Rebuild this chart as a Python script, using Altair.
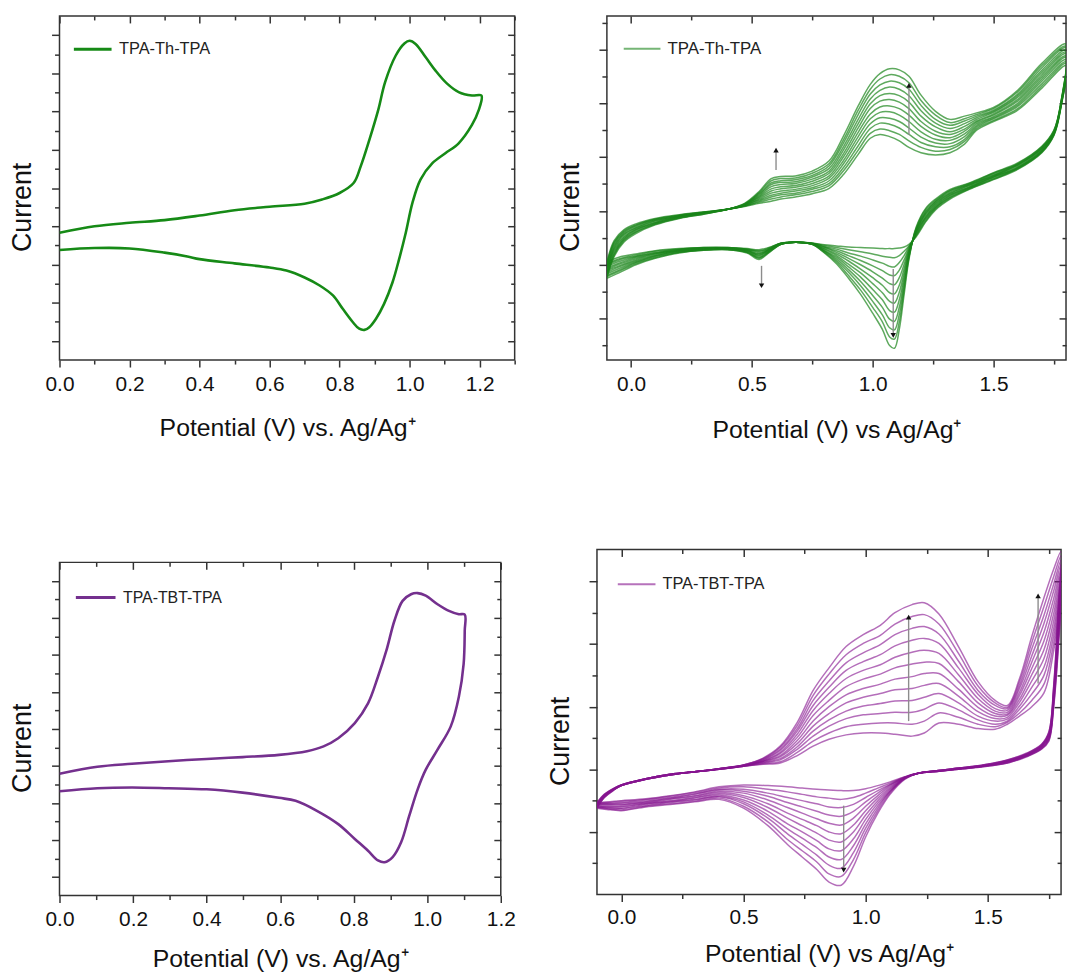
import altair as alt
import pandas as pd

FONT = "Liberation Sans"
AX = "#333333"

# ---------------- Top-left: single CV, TPA-Th-TPA ----------------
TL_V = [0.0, 0.1, 0.2, 0.3, 0.4, 0.5, 0.6, 0.7, 0.75, 0.8, 0.84, 0.86, 0.885, 0.91, 0.93, 0.96, 0.985, 1.0, 1.017, 1.046,
        1.074, 1.107, 1.14, 1.178, 1.205,
        1.197, 1.178, 1.14, 1.102, 1.065, 1.031, 1.008, 0.989, 0.97, 0.951, 0.927, 0.904, 0.885, 0.871, 0.856, 0.838,
        0.809, 0.781, 0.743, 0.7, 0.648, 0.6, 0.5, 0.4, 0.365, 0.3, 0.2, 0.1, 0.0]
TL_I = [2.83, 3.00, 3.09, 3.16, 3.28, 3.42, 3.51, 3.59, 3.70, 3.87, 4.13, 4.56, 5.26, 6.03, 6.77, 7.46, 7.78, 7.85, 7.77, 7.42,
        7.07, 6.73, 6.51, 6.42, 6.42,
        6.03, 5.65, 5.17, 4.91, 4.65, 4.22, 3.61, 2.83, 2.14, 1.53, 0.97, 0.58, 0.36, 0.29, 0.32, 0.49,
        0.84, 1.19, 1.45, 1.66, 1.84, 1.92, 2.03, 2.14, 2.21, 2.31, 2.42, 2.43, 2.38]

# ---------------- Bottom-left: single CV, TPA-TBT-TPA ----------------
BL_V = [0.0, 0.103, 0.197, 0.296, 0.4, 0.498, 0.597, 0.673, 0.718, 0.758, 0.803, 0.839, 0.866, 0.889, 0.911, 0.933, 0.956,
        0.974, 0.996, 1.028, 1.059, 1.086, 1.102,
        1.102, 1.099, 1.086, 1.064, 1.028, 0.996, 0.974, 0.951, 0.929, 0.906, 0.884, 0.866, 0.839, 0.803, 0.758, 0.7,
        0.642, 0.597, 0.498, 0.4, 0.296, 0.197, 0.103, 0.0]
BL_I = [2.79, 2.98, 3.06, 3.13, 3.19, 3.24, 3.30, 3.40, 3.53, 3.75, 4.16, 4.69, 5.41, 6.12, 6.93, 7.46, 7.64,
        7.67, 7.60, 7.37, 7.19, 7.10, 7.09,
        6.66, 5.76, 4.87, 4.07, 3.44, 2.90, 2.37, 1.65, 0.94, 0.54, 0.40, 0.45, 0.71, 1.03, 1.43, 1.79,
        2.06, 2.14, 2.28, 2.37, 2.40, 2.42, 2.40, 2.32]

# ---------------- Top-right: repeated cycles, TPA-Th-TPA (rows = potential, columns = cycles 1..12) ----------------
TR_FWD_V = [-0.1, -0.07, -0.03, 0.02, 0.1, 0.2, 0.3, 0.4, 0.47, 0.53, 0.58, 0.62, 0.68, 0.75, 0.82, 0.88, 0.94, 0.99,
            1.03, 1.07, 1.11, 1.15, 1.2, 1.26, 1.32, 1.38, 1.43, 1.5, 1.6, 1.7, 1.8]
TR_FWD_I = [
    [0.05, 0.02, 0.00, -0.03, -0.06, -0.09, -0.11, -0.14, -0.17, -0.20, -0.22, -0.25],
    [0.45, 0.42, 0.40, 0.37, 0.34, 0.31, 0.29, 0.26, 0.23, 0.20, 0.18, 0.15],
    [0.65, 0.63, 0.61, 0.59, 0.57, 0.55, 0.52, 0.50, 0.48, 0.46, 0.44, 0.42],
    [0.76, 0.74, 0.73, 0.71, 0.69, 0.68, 0.66, 0.65, 0.63, 0.61, 0.60, 0.58],
    [0.86, 0.85, 0.84, 0.83, 0.82, 0.81, 0.79, 0.78, 0.77, 0.76, 0.75, 0.74],
    [0.93, 0.92, 0.92, 0.91, 0.90, 0.90, 0.89, 0.89, 0.88, 0.87, 0.87, 0.86],
    [0.98, 0.98, 0.97, 0.97, 0.97, 0.96, 0.96, 0.96, 0.95, 0.95, 0.94, 0.94],
    [1.03, 1.03, 1.03, 1.03, 1.03, 1.03, 1.03, 1.03, 1.03, 1.03, 1.03, 1.03],
    [1.08, 1.09, 1.09, 1.10, 1.10, 1.11, 1.11, 1.12, 1.12, 1.13, 1.13, 1.14],
    [1.14, 1.16, 1.18, 1.20, 1.22, 1.24, 1.26, 1.28, 1.30, 1.32, 1.34, 1.36],
    [1.18, 1.22, 1.26, 1.29, 1.33, 1.37, 1.41, 1.45, 1.49, 1.52, 1.56, 1.60],
    [1.22, 1.26, 1.30, 1.33, 1.37, 1.41, 1.45, 1.49, 1.53, 1.56, 1.60, 1.64],
    [1.26, 1.30, 1.33, 1.37, 1.40, 1.44, 1.47, 1.51, 1.54, 1.58, 1.61, 1.65],
    [1.32, 1.36, 1.40, 1.43, 1.47, 1.51, 1.55, 1.59, 1.63, 1.66, 1.70, 1.74],
    [1.42, 1.47, 1.51, 1.56, 1.61, 1.65, 1.70, 1.74, 1.79, 1.84, 1.88, 1.93],
    [1.68, 1.75, 1.81, 1.88, 1.94, 2.01, 2.07, 2.14, 2.20, 2.27, 2.33, 2.40],
    [2.05, 2.13, 2.21, 2.30, 2.38, 2.46, 2.54, 2.62, 2.70, 2.79, 2.87, 2.95],
    [2.35, 2.44, 2.53, 2.62, 2.71, 2.80, 2.90, 2.99, 3.08, 3.17, 3.26, 3.35],
    [2.42, 2.52, 2.63, 2.73, 2.83, 2.93, 3.04, 3.14, 3.24, 3.34, 3.45, 3.55],
    [2.38, 2.49, 2.61, 2.72, 2.84, 2.95, 3.07, 3.18, 3.30, 3.41, 3.53, 3.64],
    [2.30, 2.42, 2.54, 2.66, 2.78, 2.90, 3.02, 3.14, 3.26, 3.38, 3.50, 3.62],
    [2.18, 2.30, 2.42, 2.54, 2.66, 2.78, 2.90, 3.02, 3.14, 3.26, 3.38, 3.50],
    [2.08, 2.18, 2.27, 2.37, 2.47, 2.57, 2.66, 2.76, 2.86, 2.96, 3.05, 3.15],
    [2.04, 2.11, 2.19, 2.26, 2.33, 2.41, 2.48, 2.56, 2.63, 2.70, 2.78, 2.85],
    [2.08, 2.14, 2.19, 2.25, 2.31, 2.36, 2.42, 2.47, 2.53, 2.59, 2.64, 2.70],
    [2.24, 2.29, 2.33, 2.38, 2.43, 2.48, 2.52, 2.57, 2.62, 2.67, 2.71, 2.76],
    [2.50, 2.53, 2.56, 2.59, 2.62, 2.65, 2.67, 2.70, 2.73, 2.76, 2.79, 2.82],
    [2.66, 2.68, 2.71, 2.73, 2.75, 2.78, 2.80, 2.83, 2.85, 2.87, 2.90, 2.92],
    [2.87, 2.90, 2.94, 2.97, 3.00, 3.04, 3.07, 3.11, 3.14, 3.17, 3.21, 3.24],
    [3.28, 3.32, 3.36, 3.41, 3.45, 3.49, 3.53, 3.57, 3.61, 3.66, 3.70, 3.74],
    [3.70, 3.74, 3.77, 3.81, 3.85, 3.88, 3.92, 3.95, 3.99, 4.03, 4.06, 4.10],
]
TR_REV_V = [1.78, 1.75, 1.7, 1.6, 1.5, 1.4, 1.32, 1.26, 1.22, 1.18, 1.15, 1.13, 1.11, 1.09, 1.07, 1.04, 1.0, 0.95, 0.9,
            0.85, 0.8, 0.75, 0.68, 0.62, 0.57, 0.53, 0.48, 0.4, 0.3, 0.2, 0.1, 0.02, -0.05, -0.1]
TR_REV_I = [
    [2.95, 2.96, 2.97, 2.98, 2.99, 3.00, 3.00, 3.01, 3.02, 3.03, 3.04, 3.05],
    [2.40, 2.41, 2.42, 2.43, 2.44, 2.45, 2.45, 2.46, 2.47, 2.48, 2.49, 2.50],
    [2.08, 2.09, 2.10, 2.11, 2.12, 2.13, 2.15, 2.16, 2.17, 2.18, 2.19, 2.20],
    [1.77, 1.78, 1.79, 1.80, 1.81, 1.82, 1.84, 1.85, 1.86, 1.87, 1.88, 1.89],
    [1.58, 1.59, 1.60, 1.62, 1.63, 1.64, 1.65, 1.66, 1.67, 1.69, 1.70, 1.71],
    [1.40, 1.41, 1.42, 1.43, 1.44, 1.45, 1.47, 1.48, 1.49, 1.50, 1.51, 1.52],
    [1.22, 1.24, 1.25, 1.27, 1.29, 1.30, 1.32, 1.33, 1.35, 1.37, 1.38, 1.40],
    [1.02, 1.04, 1.06, 1.07, 1.09, 1.11, 1.13, 1.15, 1.17, 1.18, 1.20, 1.22],
    [0.80, 0.82, 0.85, 0.87, 0.89, 0.91, 0.94, 0.96, 0.98, 1.00, 1.03, 1.05],
    [0.52, 0.54, 0.55, 0.57, 0.59, 0.60, 0.62, 0.63, 0.65, 0.67, 0.68, 0.70],
    [0.38, 0.35, 0.33, 0.30, 0.28, 0.25, 0.23, 0.20, 0.18, 0.15, 0.13, 0.10],
    [0.33, 0.25, 0.17, 0.09, 0.01, -0.07, -0.15, -0.23, -0.31, -0.39, -0.47, -0.55],
    [0.31, 0.17, 0.04, -0.10, -0.24, -0.38, -0.51, -0.65, -0.79, -0.92, -1.06, -1.20],
    [0.30, 0.13, -0.04, -0.20, -0.37, -0.54, -0.71, -0.88, -1.05, -1.21, -1.38, -1.55],
    [0.30, 0.14, -0.03, -0.19, -0.35, -0.52, -0.68, -0.85, -1.01, -1.17, -1.34, -1.50],
    [0.30, 0.16, 0.03, -0.11, -0.25, -0.38, -0.52, -0.65, -0.79, -0.93, -1.06, -1.20],
    [0.31, 0.20, 0.09, -0.02, -0.13, -0.24, -0.35, -0.46, -0.57, -0.68, -0.79, -0.90],
    [0.32, 0.24, 0.16, 0.08, 0.00, -0.08, -0.15, -0.23, -0.31, -0.39, -0.47, -0.55],
    [0.33, 0.28, 0.22, 0.17, 0.12, 0.07, 0.01, -0.04, -0.09, -0.14, -0.20, -0.25],
    [0.35, 0.32, 0.29, 0.26, 0.23, 0.20, 0.17, 0.14, 0.11, 0.08, 0.05, 0.02],
    [0.37, 0.36, 0.34, 0.33, 0.32, 0.30, 0.29, 0.27, 0.26, 0.25, 0.23, 0.22],
    [0.40, 0.40, 0.40, 0.40, 0.39, 0.39, 0.39, 0.39, 0.38, 0.38, 0.38, 0.38],
    [0.42, 0.42, 0.42, 0.42, 0.42, 0.42, 0.42, 0.42, 0.42, 0.42, 0.42, 0.42],
    [0.40, 0.40, 0.40, 0.40, 0.39, 0.39, 0.39, 0.39, 0.38, 0.38, 0.38, 0.38],
    [0.32, 0.31, 0.30, 0.29, 0.28, 0.28, 0.27, 0.26, 0.25, 0.24, 0.23, 0.22],
    [0.28, 0.26, 0.25, 0.23, 0.21, 0.20, 0.18, 0.17, 0.15, 0.13, 0.12, 0.10],
    [0.30, 0.29, 0.29, 0.28, 0.27, 0.26, 0.26, 0.25, 0.24, 0.23, 0.23, 0.22],
    [0.32, 0.32, 0.31, 0.31, 0.31, 0.30, 0.30, 0.30, 0.29, 0.29, 0.28, 0.28],
    [0.32, 0.32, 0.31, 0.31, 0.30, 0.30, 0.29, 0.29, 0.28, 0.28, 0.27, 0.27],
    [0.30, 0.29, 0.29, 0.28, 0.27, 0.26, 0.26, 0.25, 0.24, 0.23, 0.23, 0.22],
    [0.26, 0.25, 0.23, 0.22, 0.21, 0.20, 0.18, 0.17, 0.16, 0.15, 0.13, 0.12],
    [0.20, 0.18, 0.16, 0.15, 0.13, 0.11, 0.09, 0.07, 0.05, 0.04, 0.02, 0.00],
    [0.14, 0.11, 0.09, 0.06, 0.03, 0.01, -0.02, -0.04, -0.07, -0.10, -0.12, -0.15],
    [0.05, 0.02, 0.00, -0.03, -0.06, -0.09, -0.11, -0.14, -0.17, -0.20, -0.22, -0.25],
]
TR_ARROW_V = [1.15, 0.60, 0.54, 1.085]
TR_ARROW_FROM = [2.41, 1.76, -0.02, -0.08]
TR_ARROW_TO = [3.33, 2.13, -0.39, -1.31]

# ---------------- Bottom-right: repeated cycles, TPA-TBT-TPA (rows = potential, columns = cycles 1..12) ----------------
BR_FWD_V = [-0.1, -0.07, -0.03, 0.0, 0.1, 0.2, 0.3, 0.4, 0.5, 0.58, 0.65, 0.72, 0.785, 0.85, 0.92, 0.99, 1.06, 1.12,
            1.19, 1.24, 1.30, 1.38, 1.46, 1.53, 1.58, 1.63, 1.68, 1.73, 1.77, 1.8]
BR_FWD_I = [
    [-0.53, -0.54, -0.55, -0.55, -0.56, -0.57, -0.58, -0.59, -0.60, -0.60, -0.61, -0.62],
    [-0.40, -0.40, -0.41, -0.41, -0.42, -0.42, -0.43, -0.43, -0.44, -0.44, -0.45, -0.45],
    [-0.30, -0.30, -0.31, -0.31, -0.31, -0.31, -0.32, -0.32, -0.32, -0.32, -0.33, -0.33],
    [-0.25, -0.25, -0.25, -0.25, -0.25, -0.25, -0.26, -0.26, -0.26, -0.26, -0.26, -0.26],
    [-0.15, -0.15, -0.15, -0.15, -0.15, -0.15, -0.16, -0.16, -0.16, -0.16, -0.16, -0.16],
    [-0.08, -0.08, -0.08, -0.08, -0.08, -0.08, -0.09, -0.09, -0.09, -0.09, -0.09, -0.09],
    [-0.04, -0.04, -0.04, -0.04, -0.04, -0.04, -0.04, -0.04, -0.04, -0.04, -0.04, -0.04],
    [0.00, 0.00, 0.00, 0.00, 0.00, 0.00, 0.01, 0.01, 0.01, 0.01, 0.01, 0.01],
    [0.05, 0.05, 0.05, 0.05, 0.06, 0.06, 0.06, 0.06, 0.06, 0.07, 0.07, 0.07],
    [0.08, 0.09, 0.10, 0.11, 0.12, 0.13, 0.13, 0.14, 0.15, 0.16, 0.17, 0.18],
    [0.10, 0.12, 0.15, 0.17, 0.20, 0.22, 0.25, 0.27, 0.30, 0.32, 0.35, 0.37],
    [0.22, 0.27, 0.32, 0.36, 0.41, 0.46, 0.51, 0.56, 0.61, 0.65, 0.70, 0.75],
    [0.37, 0.45, 0.53, 0.61, 0.69, 0.77, 0.86, 0.94, 1.02, 1.10, 1.18, 1.26],
    [0.48, 0.58, 0.69, 0.79, 0.89, 1.00, 1.10, 1.21, 1.31, 1.41, 1.52, 1.62],
    [0.55, 0.68, 0.81, 0.93, 1.06, 1.19, 1.32, 1.45, 1.58, 1.70, 1.83, 1.96],
    [0.58, 0.72, 0.87, 1.01, 1.15, 1.29, 1.44, 1.58, 1.72, 1.86, 2.01, 2.15],
    [0.58, 0.74, 0.89, 1.05, 1.21, 1.36, 1.52, 1.67, 1.83, 1.99, 2.14, 2.30],
    [0.56, 0.74, 0.91, 1.09, 1.27, 1.44, 1.62, 1.79, 1.97, 2.15, 2.32, 2.50],
    [0.53, 0.72, 0.91, 1.10, 1.29, 1.48, 1.68, 1.87, 2.06, 2.25, 2.44, 2.63],
    [0.58, 0.77, 0.96, 1.15, 1.34, 1.53, 1.71, 1.90, 2.09, 2.28, 2.47, 2.66],
    [0.74, 0.90, 1.06, 1.21, 1.37, 1.53, 1.69, 1.85, 2.01, 2.16, 2.32, 2.48],
    [0.72, 0.83, 0.95, 1.06, 1.17, 1.28, 1.40, 1.51, 1.62, 1.73, 1.85, 1.96],
    [0.65, 0.72, 0.79, 0.85, 0.92, 0.99, 1.06, 1.13, 1.20, 1.26, 1.33, 1.40],
    [0.64, 0.68, 0.72, 0.77, 0.81, 0.85, 0.89, 0.93, 0.97, 1.02, 1.06, 1.10],
    [0.72, 0.75, 0.77, 0.80, 0.83, 0.86, 0.88, 0.91, 0.94, 0.97, 0.99, 1.02],
    [0.85, 0.90, 0.96, 1.01, 1.07, 1.12, 1.18, 1.23, 1.29, 1.34, 1.40, 1.45],
    [1.00, 1.10, 1.20, 1.31, 1.41, 1.51, 1.61, 1.71, 1.81, 1.92, 2.02, 2.12],
    [1.22, 1.36, 1.50, 1.63, 1.77, 1.91, 2.05, 2.19, 2.33, 2.46, 2.60, 2.74],
    [1.90, 2.02, 2.14, 2.25, 2.37, 2.49, 2.61, 2.73, 2.85, 2.96, 3.08, 3.20],
    [2.70, 2.77, 2.84, 2.91, 2.98, 3.05, 3.13, 3.20, 3.27, 3.34, 3.41, 3.48],
]
BR_REV_V = [1.79, 1.77, 1.75, 1.72, 1.66, 1.58, 1.48, 1.38, 1.3, 1.22, 1.16, 1.1, 1.05, 1.0, 0.95, 0.9, 0.85, 0.8,
            0.74, 0.68, 0.6, 0.5, 0.4, 0.3, 0.2, 0.1, 0.0, -0.06, -0.1]
BR_REV_I = [
    [2.00, 2.06, 2.13, 2.19, 2.25, 2.32, 2.38, 2.45, 2.51, 2.57, 2.64, 2.70],
    [1.00, 1.03, 1.06, 1.10, 1.13, 1.16, 1.19, 1.22, 1.25, 1.29, 1.32, 1.35],
    [0.45, 0.46, 0.48, 0.49, 0.50, 0.52, 0.53, 0.55, 0.56, 0.57, 0.59, 0.60],
    [0.32, 0.33, 0.33, 0.34, 0.35, 0.36, 0.36, 0.37, 0.38, 0.39, 0.39, 0.40],
    [0.20, 0.21, 0.21, 0.22, 0.22, 0.23, 0.23, 0.24, 0.24, 0.25, 0.25, 0.26],
    [0.10, 0.10, 0.11, 0.11, 0.12, 0.12, 0.13, 0.13, 0.14, 0.14, 0.15, 0.15],
    [0.04, 0.04, 0.05, 0.05, 0.05, 0.05, 0.06, 0.06, 0.06, 0.06, 0.07, 0.07],
    [0.00, 0.00, 0.00, 0.01, 0.01, 0.01, 0.01, 0.01, 0.02, 0.02, 0.02, 0.02],
    [-0.03, -0.03, -0.03, -0.03, -0.03, -0.03, -0.02, -0.02, -0.02, -0.02, -0.02, -0.02],
    [-0.06, -0.06, -0.06, -0.06, -0.06, -0.06, -0.06, -0.06, -0.06, -0.06, -0.06, -0.06],
    [-0.12, -0.12, -0.13, -0.13, -0.13, -0.14, -0.14, -0.14, -0.15, -0.15, -0.15, -0.16],
    [-0.20, -0.22, -0.24, -0.25, -0.27, -0.29, -0.31, -0.33, -0.35, -0.36, -0.38, -0.40],
    [-0.26, -0.30, -0.34, -0.38, -0.42, -0.46, -0.50, -0.54, -0.58, -0.62, -0.66, -0.70],
    [-0.31, -0.38, -0.45, -0.52, -0.59, -0.66, -0.73, -0.80, -0.87, -0.94, -1.01, -1.08],
    [-0.34, -0.45, -0.56, -0.67, -0.78, -0.89, -1.00, -1.11, -1.22, -1.33, -1.44, -1.55],
    [-0.34, -0.48, -0.61, -0.75, -0.89, -1.03, -1.16, -1.30, -1.44, -1.58, -1.71, -1.85],
    [-0.33, -0.46, -0.60, -0.73, -0.86, -1.00, -1.13, -1.27, -1.40, -1.53, -1.67, -1.80],
    [-0.32, -0.44, -0.55, -0.67, -0.79, -0.90, -1.02, -1.14, -1.25, -1.37, -1.48, -1.60],
    [-0.30, -0.40, -0.50, -0.60, -0.70, -0.80, -0.90, -1.00, -1.10, -1.20, -1.30, -1.40],
    [-0.28, -0.36, -0.45, -0.53, -0.61, -0.70, -0.78, -0.87, -0.95, -1.03, -1.12, -1.20],
    [-0.26, -0.32, -0.38, -0.43, -0.49, -0.55, -0.61, -0.67, -0.73, -0.78, -0.84, -0.90],
    [-0.25, -0.28, -0.32, -0.35, -0.38, -0.42, -0.45, -0.49, -0.52, -0.55, -0.59, -0.62],
    [-0.28, -0.30, -0.32, -0.33, -0.35, -0.37, -0.39, -0.41, -0.43, -0.44, -0.46, -0.48],
    [-0.36, -0.37, -0.39, -0.40, -0.42, -0.43, -0.45, -0.46, -0.48, -0.49, -0.51, -0.52],
    [-0.42, -0.43, -0.45, -0.46, -0.47, -0.48, -0.50, -0.51, -0.52, -0.53, -0.55, -0.56],
    [-0.47, -0.48, -0.49, -0.51, -0.52, -0.53, -0.54, -0.55, -0.56, -0.58, -0.59, -0.60],
    [-0.50, -0.51, -0.53, -0.54, -0.56, -0.57, -0.59, -0.60, -0.62, -0.63, -0.65, -0.66],
    [-0.52, -0.53, -0.54, -0.55, -0.56, -0.57, -0.59, -0.60, -0.61, -0.62, -0.63, -0.64],
    [-0.53, -0.54, -0.55, -0.55, -0.56, -0.57, -0.58, -0.59, -0.60, -0.60, -0.61, -0.62],
]
BR_ARROW_V = [1.176, 1.706, 0.91]
BR_ARROW_FROM = [0.77, 1.37, -0.58]
BR_ARROW_TO = [2.43, 2.77, -1.61]

# ---------------- axis tick values ----------------
X_MAJ_12 = [0.0, 0.2, 0.4, 0.6, 0.8, 1.0, 1.2]
X_MIN_12 = [0.1, 0.3, 0.5, 0.7, 0.9, 1.1]
X_MAJ_18 = [0.0, 0.5, 1.0, 1.5]
X_MIN_18 = [0.25, 0.75, 1.25, 1.75]
Y_MAJ_8 = [0, 1, 2, 3, 4, 5, 6, 7, 8]
Y_MIN_8 = [0.5, 1.5, 2.5, 3.5, 4.5, 5.5, 6.5, 7.5]
Y_MAJ_TR = [-1, 0, 1, 2, 3, 4]
Y_MIN_TR = [-1.5, -0.5, 0.5, 1.5, 2.5, 3.5, 4.5]
Y_MAJ_BR = [-1, 0, 1, 2, 3]
Y_MIN_BR = [-1.5, -0.5, 0.5, 1.5, 2.5]


def single_df(v, i, xf, yf, sf, name):
    return pd.DataFrame({xf: v, yf: i, "k": list(range(len(v))), sf: [name] * len(v)})


def multi_df(fv, fi, rv, ri, xf, yf, sf, name):
    rows = []
    for c in range(len(fi[0])):
        k = 0
        for v, r in zip(fv, fi):
            rows.append({xf: v, yf: r[c], "cycle": c, "k": k, sf: name})
            k += 1
        for v, r in zip(rv, ri):
            rows.append({xf: v, yf: r[c], "cycle": c, "k": k, sf: name})
            k += 1
    return pd.DataFrame(rows)


def arrow_df(xs, y0, y1, xf, yf):
    return pd.DataFrame({xf: xs, yf: y0, yf + "2": y1,
                         "dir": ["up" if b > a else "down" for a, b in zip(y0, y1)]})


def panel(df, xf, yf, sf, name, color, xdom, ydom, xmaj, xmin, ymaj, ymin, xtitle, w, h,
          lw, opacity, leg, multi=False, arrows=None, ytitle_pad=14, xlabel_pad=7,
          xtitle_pad=18):
    xs = alt.Scale(domain=xdom, nice=False, zero=False)
    ys = alt.Scale(domain=ydom, nice=False, zero=False)
    base = dict(domain=False, grid=False, tickColor=AX, tickWidth=1.5, minExtent=0, labelFlush=False)
    x_main = alt.Axis(orient="bottom", values=xmaj, format=".1f", tickSize=7, labelFont=FONT,
                      labelFontSize=21, labelColor="#111111", labelPadding=xlabel_pad, title=xtitle,
                      titleFont=FONT, titleFontSize=25, titleFontWeight="normal", titleColor="#111111",
                      titlePadding=xtitle_pad, **base)
    y_main = alt.Axis(orient="left", values=ymaj, labels=False, tickSize=8, title="Current",
                      titleFont=FONT, titleFontSize=27, titleFontWeight="normal", titleColor="#111111",
                      titlePadding=ytitle_pad, titleY=h / 2 + 19, **base)
    enc = dict(
        x=alt.X(f"{xf}:Q", scale=xs, axis=x_main),
        y=alt.Y(f"{yf}:Q", scale=ys, axis=y_main),
        order=alt.Order("k:Q"),
        color=alt.Color(f"{sf}:N", scale=alt.Scale(domain=[name], range=[color]), legend=alt.Legend(**leg)),
    )
    if multi:
        enc["detail"] = alt.Detail("cycle:N")
    main = alt.Chart(df).mark_line(strokeWidth=lw, opacity=opacity, interpolate="catmull-rom",
                                   clip=True).encode(**enc)
    layers = [main]

    def ax(orient, values, size, inward):
        kw = dict(orient=orient, values=values, tickSize=size, labels=False, title=None, **base)
        if inward:
            kw["offset"] = -size
        return alt.Axis(**kw)

    ax_df = pd.DataFrame({xf: [sum(xdom) / 2], yf: [sum(ydom) / 2]})
    for (xo, xv, xsz, yo, yv, ysz, inward) in [
        ("bottom", xmin, 4, "left", ymin, 5, False),
        ("top", xmaj, 7, "right", ymaj, 7, True),
        ("top", xmin, 4, "right", ymin, 4, True),
    ]:
        layers.append(alt.Chart(ax_df).mark_point(opacity=0, size=1).encode(
            x=alt.X(f"{xf}:Q", scale=xs, axis=ax(xo, xv, xsz, inward)),
            y=alt.Y(f"{yf}:Q", scale=ys, axis=ax(yo, yv, ysz, inward)),
        ))
    if arrows is not None:
        layers.append(alt.Chart(arrows).mark_rule(color="#8c8c8c", strokeWidth=1.4).encode(
            x=alt.X(f"{xf}:Q", scale=xs, axis=None),
            y=alt.Y(f"{yf}:Q", scale=ys, axis=None),
            y2=alt.Y2(f"{yf}2:Q"),
        ))
        layers.append(alt.Chart(arrows).mark_point(filled=True, color="#111111", size=30, opacity=1).encode(
            x=alt.X(f"{xf}:Q", scale=xs, axis=None),
            y=alt.Y(f"{yf}2:Q", scale=ys, axis=None),
            shape=alt.Shape("dir:N", scale=alt.Scale(domain=["up", "down"],
                                                      range=["triangle-up", "triangle-down"]), legend=None),
        ))
    return alt.layer(*layers).resolve_axis(x="independent", y="independent").properties(width=w, height=h)


def legend_kw(x, y, sym_len, sym_w, fsize, opacity=1):
    return dict(orient="none", legendX=x, legendY=y - sym_len / 2, title=None, symbolType="stroke",
                symbolSize=sym_len * sym_len, symbolStrokeWidth=sym_w, symbolOpacity=opacity,
                labelFont=FONT, labelFontSize=fsize, labelColor="#222222",
                labelOffset=6, padding=0)


df_tl = single_df(TL_V, TL_I, "V_tl", "I_tl", "s_tl", "TPA-Th-TPA")
df_bl = single_df(BL_V, BL_I, "V_bl", "I_bl", "s_bl", "TPA-TBT-TPA")
df_tr = multi_df(TR_FWD_V, TR_FWD_I, TR_REV_V, TR_REV_I, "V_tr", "I_tr", "s_tr", "TPA-Th-TPA")
df_br = multi_df(BR_FWD_V, BR_FWD_I, BR_REV_V, BR_REV_I, "V_br", "I_br", "s_br", "TPA-TBT-TPA")

tl = panel(df_tl, "V_tl", "I_tl", "s_tl", "TPA-Th-TPA", "#168a16", [0, 1.3], [-0.5, 8.5],
           X_MAJ_12, X_MIN_12 + [1.3], Y_MAJ_8, Y_MIN_8, "Potential (V) vs. Ag/Ag\u207a", 459, 347,
           2.6, 1, legend_kw(13, 32, 38, 3, 16.5), xtitle_pad=21)

tr = panel(df_tr, "V_tr", "I_tr", "s_tr", "TPA-Th-TPA", "#1a851a", [-0.1, 1.8], [-1.77, 4.62],
           X_MAJ_18, X_MIN_18, Y_MAJ_TR, Y_MIN_TR, "Potential (V) vs Ag/Ag\u207a", 463, 347,
           1.5, 0.7, legend_kw(16, 32, 37, 2, 17, 0.6), multi=True,
           arrows=arrow_df(TR_ARROW_V, TR_ARROW_FROM, TR_ARROW_TO, "V_tr", "I_tr"), xtitle_pad=23)

bl = panel(df_bl, "V_bl", "I_bl", "s_bl", "TPA-TBT-TPA", "#74308e", [0, 1.2], [-0.5, 8.5],
           X_MAJ_12, X_MIN_12, Y_MAJ_8, Y_MIN_8, "Potential (V) vs. Ag/Ag\u207a", 445, 336,
           2.6, 1, legend_kw(15, 34, 40, 3, 16), xlabel_pad=6, xtitle_pad=18)

br = panel(df_br, "V_br", "I_br", "s_br", "TPA-TBT-TPA", "#86158f", [-0.1, 1.8], [-2.0, 3.51],
           X_MAJ_18, X_MIN_18, Y_MAJ_BR, Y_MIN_BR, "Potential (V) vs Ag/Ag\u207a", 468, 348,
           1.5, 0.62, legend_kw(20, 34, 38, 2, 16.5, 0.6), multi=True,
           arrows=arrow_df(BR_ARROW_V, BR_ARROW_FROM, BR_ARROW_TO, "V_br", "I_br"),
           xlabel_pad=5.5, xtitle_pad=14)

# an empty strip that lowers the bottom-left panel inside its row
spacer = alt.Chart(pd.DataFrame({"z": [0]})).mark_point(opacity=0).encode(
    x=alt.X("z:Q", axis=None), y=alt.Y("z:Q", axis=None)
).properties(width=445, height=1, view=alt.ViewBackground(stroke="transparent", strokeWidth=0))

indep = dict(x="independent", y="independent", color="independent", shape="independent")
bl_col = alt.vconcat(spacer, bl, spacing=7).resolve_scale(**indep)
row1 = alt.hconcat(tl, tr, spacing=39).resolve_scale(**indep)
row2 = alt.hconcat(bl_col, br, spacing=29).resolve_scale(**indep)

chart = (
    alt.vconcat(row1, row2, spacing=104)
    .resolve_scale(**indep)
    .properties(padding={"left": 8, "top": 10, "right": 0, "bottom": 0}, background="white")
    .configure_view(stroke=AX, strokeWidth=1.5)
)

chart.save("out.html", embed_options={"renderer": "svg", "actions": False})
